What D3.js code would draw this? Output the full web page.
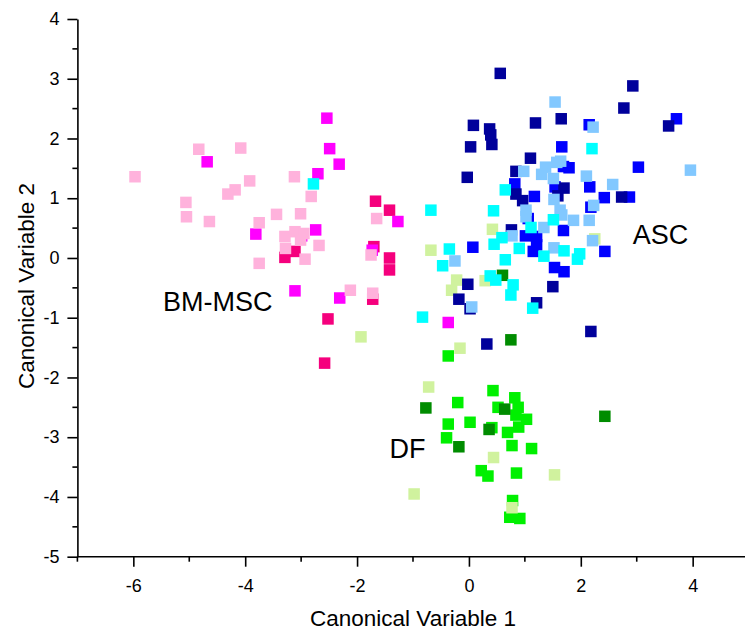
<!DOCTYPE html>
<html>
<head>
<meta charset="utf-8">
<script src="https://cdn.jsdelivr.net/npm/d3@7"></script>
<style>
  body { margin: 0; background: #fff; }
  text { font-family: "Liberation Sans", Arial, sans-serif; }
</style>
</head>
<body>
<svg id="chart" width="745" height="635"></svg>
<script>
const xMajor = [-6, -4, -2, 0, 2, 4];
const xMinor = [-7, -5, -3, -1, 1, 3, 5];
const yMajor = [-5, -4, -3, -2, -1, 0, 1, 2, 3, 4];
const yMinor = [-4.5, -3.5, -2.5, -1.5, -0.5, 0.5, 1.5, 2.5, 3.5];

// DF
const dfGreen = [[-0.37,-1.64],[-0.20,-2.42],[0.43,-2.22],[0.82,-2.34],[0.52,-2.50],[0.88,-2.50],
  [0.84,-2.63],[1.03,-2.70],[-0.37,-2.78],[0.02,-2.75],[0.41,-2.84],[0.89,-2.83],[0.69,-2.92],
  [-0.40,-3.01],[0.77,-3.14],[1.12,-3.19],[0.22,-3.56],[0.34,-3.65],[0.85,-3.60],[0.78,-4.06],
  [0.73,-4.34],[0.91,-4.36]];
const dfDark = [[-0.77,-2.51],[0.64,-2.53],[0.36,-2.87],[-0.18,-3.16],[2.43,-2.65],[0.60,-0.29],[0.75,-1.37]];
const dfLight = [[-0.16,-1.51],[-0.72,-2.16],[0.44,-3.34],[1.53,-3.63],[-0.98,-3.95],[0.77,-4.18],
  [0.42,0.48],[2.25,0.32],[-0.68,0.13],[-0.22,-0.37],[-0.31,-0.54],[0.29,-0.38],[-1.93,-1.32]];

// BM-MSC
const bmDeep = [[-3.29,0.01],[-3.11,0.11],[-1.67,0.95],[-1.42,0.80],[-1.70,0.19],[-1.42,0.00],
  [-1.42,-0.20],[-1.72,-0.69],[-2.52,-1.02],[-2.58,-1.76]];
const bmMagenta = [[-4.68,1.61],[-3.81,0.40],[-2.32,1.57],[-2.70,1.41],[-1.27,0.61],[-2.74,0.47],
  [-2.99,0.37],[-1.73,0.13],[-3.11,-0.55],[-2.31,-0.67],[-0.37,-1.08],[-2.54,2.34],[-2.49,1.83]];
const bmLight = [[-4.83,1.82],[-4.08,1.84],[-5.97,1.36],[-3.92,1.29],[-3.12,1.36],[-4.18,1.14],
  [-4.31,1.07],[-5.06,0.93],[-5.05,0.69],[-4.64,0.61],[-3.44,0.73],[-3.75,0.59],[-3.29,0.36],
  [-3.11,0.44],[-3.28,0.16],[-3.75,-0.09],[-2.82,1.03],[-3.01,0.74],[-1.65,0.66],[-2.95,0.41],
  [-3.01,0.30],[-2.68,0.21],[-2.93,-0.02],[-1.75,0.05],[-2.12,-0.54],[-1.72,-0.59]];

// ASC
const ascBlue = [[3.71,2.33],[2.15,2.23],[1.66,1.86],[1.79,1.51],[1.69,1.53],[3.03,1.52],[0.82,1.24],
  [1.54,1.19],[2.16,1.19],[1.17,1.03],[2.42,1.01],[2.87,1.02],[2.18,0.85],[1.06,0.66],[1.69,0.46],
  [1.01,0.37],[1.21,0.36],[1.21,0.22],[1.15,0.11],[0.07,0.18],[2.43,0.11],[1.53,-0.16],[1.70,-0.23]];
const ascNavy = [[0.56,3.09],[2.93,2.88],[2.77,2.51],[3.57,2.21],[0.08,2.22],[0.37,2.16],[0.39,2.06],
  [0.41,1.90],[0.03,1.86],[1.19,2.26],[1.65,2.33],[1.10,1.67],[0.84,1.45],[-0.03,1.35],[1.70,1.17],
  [1.59,1.04],[0.84,1.07],[0.96,0.96],[2.73,1.02],[0.76,0.47],[-0.02,-0.44],[-0.18,-0.69],
  [0.02,-0.85],[1.50,-0.48],[1.21,-0.75],[2.18,-1.23],[0.32,-1.44]];
const ascSky = [[1.54,2.61],[2.22,2.19],[1.64,1.62],[1.57,1.60],[3.96,1.47],[0.98,1.45],[1.37,1.52],
  [1.30,1.40],[1.51,1.33],[2.10,1.37],[2.57,1.23],[1.52,0.98],[1.63,0.80],[1.66,0.72],[2.23,0.88],
  [1.02,0.80],[1.02,0.69],[1.87,0.63],[2.15,0.63],[1.34,0.51],[2.21,0.29],[1.52,0.17],[-0.25,-0.05],
  [0.05,-0.82],[0.77,0.37]];
const ascCyan = [[2.20,1.83],[0.65,1.14],[0.44,0.79],[1.51,0.64],[1.11,0.51],[0.59,0.34],[0.45,0.23],
  [0.90,0.16],[-0.35,0.15],[0.65,-0.03],[1.34,0.03],[1.70,0.12],[1.98,0.07],[1.94,-0.02],
  [0.38,-0.30],[0.48,-0.37],[0.79,-0.45],[0.75,-0.62],[1.14,-0.84],[-0.68,0.80],[-0.47,-0.13],
  [-0.83,-0.99],[-2.78,1.24]];

const series = [
  {data: dfGreen, color: '#00f000'},
  {data: dfDark, color: '#008c00'},
  {data: dfLight, color: '#d0f29e'},
  {data: bmDeep, color: '#f5007d'},
  {data: bmMagenta, color: '#ff00ff'},
  {data: bmLight, color: '#ffb2dc'},
  {data: ascBlue, color: '#0000ff'},
  {data: ascNavy, color: '#00009b'},
  {data: ascSky, color: '#82c8ff'},
  {data: ascCyan, color: '#00ffff'}
];

const groupLabels = [
  {text: 'BM-MSC', x: -5.47, y: -0.88},
  {text: 'ASC', x: 2.93, y: 0.23},
  {text: 'DF', x: -1.42, y: -3.35}
];

const svg = d3.select('#chart');
const x = d3.scaleLinear().domain([-7, 5]).range([77.4, 748.6]);
const y = d3.scaleLinear().domain([-5, 4]).range([556.7, 19]);
const size = 11.5;

series.forEach(s => {
  svg.append('g')
    .selectAll('rect')
    .data(s.data)
    .join('rect')
    .attr('x', d => x(d[0]) - size / 2)
    .attr('y', d => y(d[1]) - size / 2)
    .attr('width', size)
    .attr('height', size)
    .attr('fill', s.color);
});

// axes
const xAxis = svg.append('g').attr('transform', `translate(0,${y(-5)})`)
  .call(d3.axisBottom(x).tickValues(xMajor).tickSize(10).tickSizeOuter(0).tickFormat(d => String(d)));
xAxis.append('g').selectAll('line').data(xMinor).join('line')
  .attr('x1', d => x(d)).attr('x2', d => x(d)).attr('y1', 0).attr('y2', 5);

const yAxis = svg.append('g').attr('transform', `translate(${x(-7)},0)`)
  .call(d3.axisLeft(y).tickValues(yMajor).tickSize(10).tickSizeOuter(0).tickFormat(d => String(d)));
yAxis.append('g').selectAll('line').data(yMinor).join('line')
  .attr('y1', d => y(d)).attr('y2', d => y(d)).attr('x1', 0).attr('x2', -5);

svg.selectAll('.domain').attr('stroke', '#000').attr('stroke-width', 1.6);
svg.selectAll('.tick line').attr('stroke', '#000').attr('stroke-width', 1.6);
xAxis.selectAll('g > line').attr('stroke', '#000').attr('stroke-width', 1.6);
yAxis.selectAll('g > line').attr('stroke', '#000').attr('stroke-width', 1.6);
svg.selectAll('.tick text')
  .attr('font-size', 18)
  .attr('fill', '#000')
  .style('font-family', '"Liberation Sans", Arial, sans-serif');
xAxis.selectAll('.tick text').attr('dy', null).attr('y', 35);
yAxis.selectAll('.tick text').attr('x', -18);
xAxis.select('.domain').attr('d', `M${x(-7)},0H745`);

svg.append('text')
  .attr('x', 413).attr('y', 626)
  .attr('text-anchor', 'middle')
  .attr('font-size', 22.5)
  .text('Canonical Variable 1');

svg.append('text')
  .attr('transform', 'translate(34,286) rotate(-90)')
  .attr('text-anchor', 'middle')
  .attr('font-size', 22.5)
  .text('Canonical Variable 2');

svg.append('g')
  .selectAll('text')
  .data(groupLabels)
  .join('text')
  .attr('x', d => x(d.x))
  .attr('y', d => y(d.y))
  .attr('font-size', 27)
  .text(d => d.text);
</script>
</body>
</html>
